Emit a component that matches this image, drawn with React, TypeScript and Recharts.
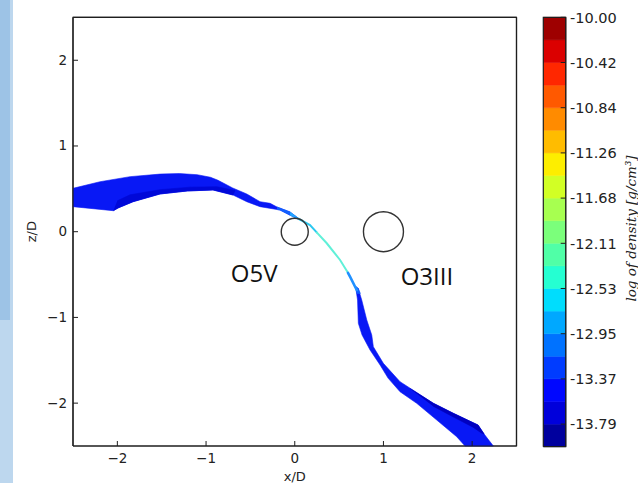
import React from "react";
import { ScatterChart, Scatter, XAxis, YAxis, ReferenceDot } from "recharts";

type Pt = [number, number];

const X_TICKS = [-2, -1, 0, 1, 2];
const Z_TICKS = [-2, -1, 0, 1, 2];
const FRAME: Pt[] = [[-2.5, -2.5], [2.5, -2.5], [2.5, 2.5], [-2.5, 2.5], [-2.5, -2.5]];

// shock outline (x/D, z/D)
const UPPER_ARM: Pt[] = [
  [-2.5, 0.506], [-2.195, 0.583], [-1.857, 0.642], [-1.519, 0.672], [-1.3, 0.678],
  [-1.1, 0.665], [-0.95, 0.635], [-0.865, 0.6], [-0.7, 0.51], [-0.541, 0.44], [-0.391, 0.35],
  [-0.278, 0.331], [-0.2, 0.288], [-0.053, 0.23], [0.037, 0.16],
  [0.037, 0.148], [-0.019, 0.175], [-0.166, 0.253], [-0.391, 0.292], [-0.541, 0.35],
  [-0.696, 0.428], [-0.921, 0.487], [-1.212, 0.475], [-1.519, 0.44], [-1.823, 0.35],
  [-1.992, 0.277], [-2.045, 0.245], [-2.5, 0.292],
];
const UPPER_DARK: Pt[] = [
  [-2.0, 0.36], [-1.857, 0.43], [-1.519, 0.49], [-1.18, 0.52],
  [-0.879, 0.525], [-0.673, 0.48],
  [-0.696, 0.428], [-0.921, 0.487], [-1.212, 0.475], [-1.519, 0.44], [-1.823, 0.35],
  [-1.992, 0.277], [-2.045, 0.245],
];
const TIP_A: Pt[] = [[-0.2, 0.288], [-0.053, 0.23], [-0.053, 0.193], [-0.166, 0.253], [-0.2, 0.259]];
const TIP_B: Pt[] = [[-0.053, 0.23], [0.037, 0.16], [0.037, 0.148], [-0.019, 0.175], [-0.053, 0.193]];

const THIN_TOP: Pt[] = [[0.037, 0.154], [0.172, 0.078], [0.25, -0.01]];
const THIN_MID: Pt[] = [[0.25, -0.01], [0.361, -0.135], [0.511, -0.33], [0.6, -0.48]];
const THIN_LOW: Pt[] = [[0.6, -0.48], [0.623, -0.525], [0.699, -0.68]];

const LOWER_ARM: Pt[] = [
  [0.685, -0.634], [0.708, -0.797], [0.717, -1.069], [0.759, -1.205], [0.849, -1.38],
  [0.962, -1.555], [1.052, -1.708], [1.187, -1.867], [1.375, -2.002], [1.601, -2.197],
  [1.826, -2.392], [1.92, -2.5],
  [2.239, -2.5], [2.135, -2.361], [2.067, -2.256], [1.788, -2.119], [1.563, -2.002],
  [1.187, -1.75], [0.999, -1.536], [0.886, -1.342], [0.868, -1.205], [0.812, -1.03],
  [0.755, -0.797], [0.714, -0.657],
];
const LOWER_TOP: Pt[] = [[0.685, -0.634], [0.7, -0.72], [0.74, -0.72], [0.714, -0.657]];
const LOWER_DARK: Pt[] = [
  [1.3, -1.83], [1.563, -2.002], [1.788, -2.119], [2.067, -2.256], [2.135, -2.361],
  [2.1, -2.345], [2.01, -2.28], [1.785, -2.16], [1.56, -2.035],
];

const STARS = [
  { name: "O5V", x: 0, z: 0, r: 13.5, lx: -0.457, lz: -0.49 },
  { name: "O3III", x: 1, z: 0, r: 20, lx: 1.49, lz: -0.517 },
];

// colorbar: log density levels and jet colours
const LEVELS = [
  -14, -13.7895, -13.5789, -13.3684, -13.1579, -12.9474, -12.7368, -12.5263, -12.3158,
  -12.1053, -11.8947, -11.6842, -11.4737, -11.2632, -11.0526, -10.8421, -10.6316,
  -10.4211, -10.2105, -10,
];
const LEVEL_COLORS = [
  "#00009e", "#0000db", "#0007ff", "#003cff", "#0072ff", "#00a8ff", "#00ddfd",
  "#25ffd2", "#50ffa7", "#7bff7b", "#a7ff50", "#d2ff25", "#fdee00", "#ffbc00",
  "#ff8b00", "#ff5900", "#ff2700", "#db0000", "#9e0000",
];
const CBAR_TICKS = [
  -10, -10.4211, -10.8421, -11.2632, -11.6842, -12.1053, -12.5263, -12.9474, -13.3684, -13.7895,
];

const FILLED = [
  { pts: UPPER_ARM, color: "#0818f5" },
  { pts: UPPER_DARK, color: "#0008d8" },
  { pts: TIP_A, color: "#1060ff" },
  { pts: TIP_B, color: "#22a8ff" },
  { pts: LOWER_ARM, color: "#0818f5" },
  { pts: LOWER_TOP, color: "#1060ff" },
  { pts: LOWER_DARK, color: "#0000c0" },
];
const STROKED = [
  { pts: THIN_TOP, color: "#2cc8f0", w: 2 },
  { pts: THIN_MID, color: "#60f0d8", w: 2 },
  { pts: THIN_LOW, color: "#2090ff", w: 2.6 },
];

const toRows = (a: Pt[]) => a.map(([x, y]) => ({ x, y }));
const minus = (v: number) => (v < 0 ? `\u2212${-v}` : `${v}`);

const AXIS = "#1e1e1e";
const FONT = "DejaVu Sans";
const noShape = () => <g />;

// inward tick marks, matplotlib style
const BottomTick = ({ x, y, payload }: any) => (
  <g>
    <line x1={x} x2={x} y1={y - 5} y2={y} stroke={AXIS} strokeWidth={1} />
    <text x={x} y={y + 17} textAnchor="middle" fontSize={13.5} fill="#222" fontFamily={FONT}>{minus(payload.value)}</text>
  </g>
);
const TopTick = ({ x, y }: any) => <line x1={x} x2={x} y1={y} y2={y + 5} stroke={AXIS} strokeWidth={1} />;
const LeftTick = ({ x, y, payload }: any) => (
  <g>
    <line x1={x} x2={x + 5} y1={y} y2={y} stroke={AXIS} strokeWidth={1} />
    <text x={x - 6} y={y + 4.5} textAnchor="end" fontSize={13.5} fill="#222" fontFamily={FONT}>{minus(payload.value)}</text>
  </g>
);
const RightTick = ({ x, y }: any) => <line x1={x - 5} x2={x} y1={y} y2={y} stroke={AXIS} strokeWidth={1} />;
const CbarTick = ({ x, y, payload }: any) => (
  <g>
    <line x1={x - 5} x2={x} y1={y} y2={y} stroke={AXIS} strokeWidth={1} />
    <text x={x + 4.3} y={y + 5.3} textAnchor="start" fontSize={14.5} fill="#222" fontFamily={FONT}>{payload.value.toFixed(2)}</text>
  </g>
);

export default function App() {
  const bands = LEVEL_COLORS.map((c, i) => ({
    color: c,
    rows: toRows([[0, LEVELS[i]], [1, LEVELS[i]], [1, LEVELS[i + 1]], [0, LEVELS[i + 1]]]),
  }));
  const cbarFrame = toRows([[0, -14], [1, -14], [1, -10], [0, -10], [0, -14]]);

  return (
    <div style={{ position: "absolute", left: 0, top: 0, width: 638, height: 483, background: "#fff", overflow: "hidden" }}>
      {/* slide edge */}
      <div style={{ position: "absolute", left: 0, top: 0, width: 13, height: 483, background: "#bdd7ee" }} />
      <div style={{ position: "absolute", left: 0, top: 0, width: 10, height: 320, background: "#9dc3e6" }} />

      <div style={{ position: "absolute", left: 0, top: 0 }}>
        <ScatterChart width={530} height={483} margin={{ top: 16.4, right: 12.5, bottom: 0, left: 0 }}>
          <XAxis
            type="number" dataKey="x" domain={[-2.5, 2.5]} ticks={X_TICKS} interval={0}
            height={37} tickSize={0} tickMargin={0} tickLine={false} tick={<BottomTick />}
            stroke={AXIS} strokeWidth={1.2}
            label={{ value: "x/D", position: "insideBottom", offset: 2, fontSize: 13, fill: "#222", fontFamily: FONT }}
          />
          <XAxis
            xAxisId="top" orientation="top" type="number" dataKey="x" domain={[-2.5, 2.5]}
            ticks={X_TICKS} interval={0} height={1} tickSize={0} tickMargin={0} tickLine={false}
            tick={<TopTick />} stroke={AXIS} strokeWidth={1.2}
          />
          <YAxis
            type="number" dataKey="y" domain={[-2.5, 2.5]} ticks={Z_TICKS} interval={0}
            width={73} tickSize={0} tickMargin={0} tickLine={false} tick={<LeftTick />}
            stroke={AXIS} strokeWidth={1.2}
            label={{ value: "z/D", angle: -90, position: "center", dx: -4.8, fontSize: 13, fill: "#222", fontFamily: FONT }}
          />
          <YAxis
            yAxisId="right" orientation="right" type="number" dataKey="y" domain={[-2.5, 2.5]}
            ticks={Z_TICKS} interval={0} width={1} tickSize={0} tickMargin={0} tickLine={false}
            tick={<RightTick />} stroke={AXIS} strokeWidth={1.2}
          />

          {FILLED.map((l, i) => (
            <Scatter
              key={`f${i}`} data={toRows(l.pts)} fill={l.color} shape={noShape}
              line={{ stroke: l.color, strokeWidth: 0.6, fill: l.color }}
              isAnimationActive={false} legendType="none"
            />
          ))}
          {STROKED.map((l, i) => (
            <Scatter
              key={`s${i}`} data={toRows(l.pts)} fill={l.color} shape={noShape}
              line={{ stroke: l.color, strokeWidth: l.w, fill: "none", strokeLinecap: "round" }}
              isAnimationActive={false} legendType="none"
            />
          ))}
          <Scatter
            data={toRows(FRAME)} fill={AXIS} shape={noShape}
            line={{ stroke: AXIS, strokeWidth: 1.2, fill: "none" }}
            isAnimationActive={false} legendType="none"
          />

          {STARS.map((s) => (
            <ReferenceDot key={s.name} x={s.x} y={s.z} r={s.r} fill="none" stroke="#333" strokeWidth={1.4} />
          ))}
          {STARS.map((s) => (
            <ReferenceDot
              key={`${s.name}-label`} x={s.lx} y={s.lz} r={1} fill="none" stroke="none"
              label={{ value: s.name, position: "center", fontSize: 24, fill: "#111", fontFamily: "Open Sans" }}
            />
          ))}
        </ScatterChart>
      </div>

      {/* colorbar */}
      <div style={{ position: "absolute", left: 530, top: 0 }}>
        <ScatterChart width={108} height={483} margin={{ top: 17.3, right: 0, bottom: 36.3, left: 13.3 }}>
          <XAxis type="number" dataKey="x" domain={[0, 1]} hide />
          <YAxis
            orientation="right" type="number" dataKey="y" domain={[-14, -10]} ticks={CBAR_TICKS} interval={0}
            width={72.3} tickSize={0} tickMargin={0} tickLine={false} tick={<CbarTick />}
            stroke={AXIS} strokeWidth={1.2}
            label={{
              value: "log of density [g/cm³]", angle: -90, position: "center", dx: 29.5, dy: -3.5,
              fontSize: 13.5, fill: "#222", fontFamily: "DejaVu Serif", fontStyle: "italic",
            }}
          />
          {bands.map((b) => (
            <Scatter
              key={b.color} data={b.rows} fill={b.color} shape={noShape}
              line={{ stroke: b.color, strokeWidth: 0.5, fill: b.color }}
              isAnimationActive={false} legendType="none"
            />
          ))}
          <Scatter
            data={cbarFrame} fill={AXIS} shape={noShape}
            line={{ stroke: AXIS, strokeWidth: 1.2, fill: "none" }}
            isAnimationActive={false} legendType="none"
          />
        </ScatterChart>
      </div>
    </div>
  );
}
